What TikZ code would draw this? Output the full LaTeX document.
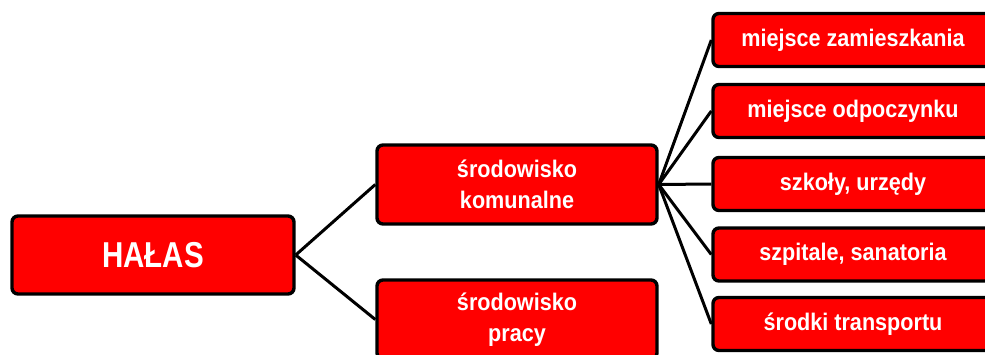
\documentclass[tikz,border=0pt]{standalone}
\usepackage{fontspec}
\newfontfamily\boxfont{Liberation Sans}[FakeStretch=0.9]
\newfontfamily\titlefont{Liberation Sans}[FakeStretch=0.82]
\begin{document}
\begin{tikzpicture}[x=1pt,y=-1pt,
  redbox/.style={draw=black, line width=3.4pt, fill=red, rounded corners=6pt,
    text=white, align=center, inner sep=0pt, font=\boxfont\bfseries\fontsize{24}{30.5}\selectfont},
  midbox/.style={redbox, minimum width=280pt, minimum height=79pt},
  leafbox/.style={redbox, minimum width=280pt, minimum height=53pt},
  link/.style={draw=black, line width=3pt}]
\useasboundingbox (0,0) rectangle (985,354);
\clip (0,0) rectangle (985,354);
\node[redbox, minimum width=282pt, minimum height=78pt, font=\titlefont\bfseries\fontsize{36}{40}\selectfont] (halas) at (153,255) {HAŁAS};
\node[midbox] (kom) at (517,184.5) {środowisko\\komunalne};
\node[midbox] (pracy) at (517,319.5) {środowisko\\pracy};
\node[leafbox] (l1) at (853,40) {miejsce zamieszkania};
\node[leafbox] (l2) at (853,111) {miejsce odpoczynku};
\node[leafbox] (l3) at (853,184) {szkoły, urzędy};
\node[leafbox] (l4) at (853,254.5) {szpitale, sanatoria};
\node[leafbox] (l5) at (853,324) {środki transportu};
\draw[link] (halas.east) -- (kom.west);
\draw[link] (halas.east) -- (pracy.west);
\foreach \n in {l1,l2,l3,l4,l5} \draw[link] (kom.east) -- (\n.west);
\end{tikzpicture}
\end{document}
